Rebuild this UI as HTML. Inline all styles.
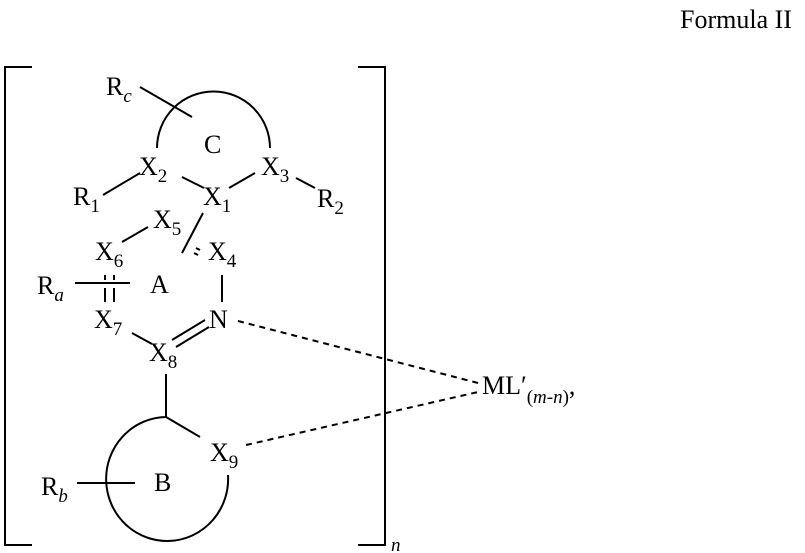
<!DOCTYPE html>
<html><head><meta charset="utf-8"><style>
html,body{margin:0;padding:0;background:#fff}
svg{display:block}
text{font-family:"Liberation Serif",serif;fill:#000}
</style></head><body>
<svg width="805" height="553" viewBox="0 0 805 553" xmlns="http://www.w3.org/2000/svg">
<g stroke="#000" stroke-width="2" fill="none">
<polyline points="32,67 5,67 5,545 32,545"/>
<polyline points="358,67 385,67 385,545 358,545"/>
<path d="M157,148 A56.5,56.5 0 0 1 270,148"/>
<line x1="140" y1="87" x2="192" y2="117"/>
<line x1="103" y1="195" x2="140" y2="173"/>
<line x1="182" y1="177" x2="204" y2="188"/>
<line x1="229" y1="188" x2="255" y2="173"/>
<line x1="296" y1="178" x2="315" y2="188"/>
<line x1="122" y1="242" x2="148" y2="227"/>
<line x1="203" y1="213" x2="182" y2="253"/>
<line x1="196" y1="248" x2="200" y2="250"/>
<line x1="194" y1="253" x2="198" y2="255"/>
<line x1="222" y1="275" x2="222" y2="302"/>
<line x1="75" y1="283" x2="130" y2="283"/>
<line x1="105" y1="275" x2="105" y2="280"/>
<line x1="114" y1="275" x2="114" y2="280"/>
<line x1="105" y1="288" x2="105" y2="302"/>
<line x1="114" y1="288" x2="114" y2="302"/>
<line x1="132" y1="333" x2="152" y2="344"/>
<line x1="172" y1="340" x2="205" y2="320"/>
<line x1="176" y1="347" x2="209" y2="327"/>
<line x1="166" y1="374" x2="166" y2="417"/>
<line x1="166" y1="417" x2="200" y2="437"/>
<path d="M166,417 A61,62 0 1 0 228,475"/>
<line x1="77" y1="483" x2="135" y2="483"/>
</g>
<g stroke="#000" stroke-width="2" stroke-dasharray="6,5" fill="none">
<line x1="238" y1="321" x2="478" y2="383"/>
<line x1="246" y1="445" x2="478" y2="392"/>
</g>
<g font-size="26">
<text x="680" y="28">Formula II</text>
<text x="106" y="95">R<tspan font-size="19" font-style="italic" dy="7">c</tspan></text>
<text x="204" y="153">C</text>
<text x="139" y="175">X<tspan font-size="19" dy="7">2</tspan></text>
<text x="261" y="175">X<tspan font-size="19" dy="7">3</tspan></text>
<text x="73" y="205">R<tspan font-size="19" dy="7">1</tspan></text>
<text x="203" y="205">X<tspan font-size="19" dy="7">1</tspan></text>
<text x="317" y="207">R<tspan font-size="19" dy="7">2</tspan></text>
<text x="153" y="228">X<tspan font-size="19" dy="7">5</tspan></text>
<text x="95" y="260">X<tspan font-size="19" dy="7">6</tspan></text>
<text x="208" y="260">X<tspan font-size="19" dy="7">4</tspan></text>
<text x="37" y="294">R<tspan font-size="19" font-style="italic" dy="7">a</tspan></text>
<text x="150" y="293">A</text>
<text x="94" y="328">X<tspan font-size="19" dy="7">7</tspan></text>
<text x="209" y="328">N</text>
<text x="149" y="361">X<tspan font-size="19" dy="7">8</tspan></text>
<text x="210" y="461">X<tspan font-size="19" dy="7">9</tspan></text>
<text x="154" y="491">B</text>
<text x="41" y="495">R<tspan font-size="19" font-style="italic" dy="7">b</tspan></text>
<text x="482" y="394">ML′<tspan font-size="19" dy="9">(<tspan font-style="italic">m</tspan>-<tspan font-style="italic">n</tspan>)</tspan><tspan dy="-9">,</tspan></text>
<text x="391" y="551" font-size="19" font-style="italic">n</text>
</g>
</svg>
</body></html>
